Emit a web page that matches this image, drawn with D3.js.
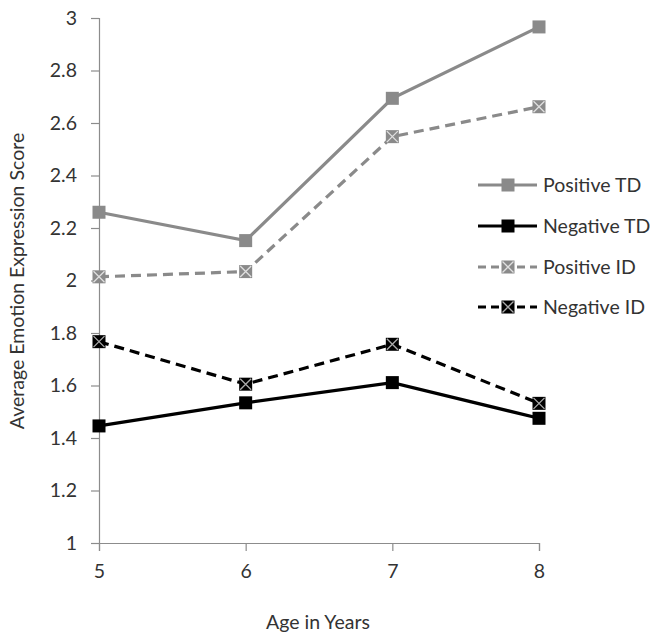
<!DOCTYPE html>
<html><head><meta charset="utf-8">
<script src="https://cdn.jsdelivr.net/npm/d3@7"></script>
<style>body{margin:0;background:#fff}svg{display:block}text{font-family:Lato,"Open Sans",sans-serif;fill:#333}</style>
</head><body>
<script>
const ages = [5, 6, 7, 8];
const positiveTD = [2.26, 2.152, 2.694, 2.966];
const negativeTD = [1.446, 1.534, 1.611, 1.475];
const positiveID = [2.014, 2.034, 2.548, 2.662];
const negativeID = [1.767, 1.605, 1.757, 1.532];
const yTicks = [1, 1.2, 1.4, 1.6, 1.8, 2, 2.2, 2.4, 2.6, 2.8, 3];
const seriesNames = ["Positive TD", "Negative TD", "Positive ID", "Negative ID"];

const series = [
  {name: seriesNames[0], values: positiveTD, color: "#8a8a8a", dash: null, cross: false},
  {name: seriesNames[1], values: negativeTD, color: "#000000", dash: null, cross: false},
  {name: seriesNames[2], values: positiveID, color: "#8a8a8a", dash: "10,6", cross: true},
  {name: seriesNames[3], values: negativeID, color: "#000000", dash: "10,6", cross: true}
];

const W = 661, H = 641;
const FS = "19.5px";
const svg = d3.select("body").append("svg").attr("width", W).attr("height", H);
const x = d3.scaleLinear().domain([5, 8]).range([99, 539]);
const y = d3.scaleLinear().domain([1, 3]).range([543, 18]);

const yAxis = svg.append("g").attr("transform", "translate(99,0)")
  .call(d3.axisLeft(y).tickValues(yTicks).tickSize(8).tickPadding(14).tickFormat(d3.format("")));
const xAxis = svg.append("g").attr("transform", "translate(0,543)")
  .call(d3.axisBottom(x).tickValues(ages).tickSize(8).tickPadding(13).tickFormat(d3.format("d")));
[yAxis, xAxis].forEach(g => {
  g.select(".domain").attr("stroke", "#8c8c8c").attr("stroke-width", 1.2);
  g.selectAll(".tick line").attr("stroke", "#8c8c8c").attr("stroke-width", 1.2);
  g.selectAll(".tick text").style("font-size", FS).style("font-family", "Lato, sans-serif").attr("fill", "#333");
});

svg.append("text").attr("x", 318).attr("y", 629).attr("text-anchor", "middle")
  .style("font-size", FS).text("Age in Years");
svg.append("text").attr("transform", "translate(24,281) rotate(-90)").attr("text-anchor", "middle")
  .style("font-size", FS).text("Average Emotion Expression Score");

const line = d3.line().x((d, i) => x(ages[i])).y(d => y(d));

function marker(g, cx, cy, s) {
  const h = 6.5;
  g.append("rect").attr("x", cx - h).attr("y", cy - h).attr("width", 2 * h).attr("height", 2 * h)
    .attr("fill", s.color);
  if (s.cross) {
    const c = s.color === "#000000" ? "#aaaaaa" : "#e0e0e0";
    g.append("path").attr("d", `M${cx - h + 1},${cy - h + 1}L${cx + h - 1},${cy + h - 1}M${cx + h - 1},${cy - h + 1}L${cx - h + 1},${cy + h - 1}`)
      .attr("stroke", c).attr("stroke-width", 1.3).attr("fill", "none");
  }
}

const order = [2, 0, 3, 1];
order.forEach(k => {
  const s = series[k];
  const g = svg.append("g");
  g.append("path").datum(s.values).attr("d", line).attr("fill", "none")
    .attr("stroke", s.color).attr("stroke-width", 3.2)
    .attr("stroke-dasharray", s.dash);
  s.values.forEach((v, i) => marker(g, x(ages[i]), y(v), s));
});

const legY = [185, 226, 267, 307];
series.forEach((s, i) => {
  const g = svg.append("g");
  const yy = legY[i];
  g.append("line").attr("x1", 478).attr("x2", 537).attr("y1", yy).attr("y2", yy)
    .attr("stroke", s.color).attr("stroke-width", 3.2).attr("stroke-dasharray", s.dash ? "8,5" : null);
  const h = 6.5;
  g.append("rect").attr("x", 508 - h).attr("y", yy - h).attr("width", 2*h).attr("height", 2*h).attr("fill", s.color);
  if (s.cross) {
    const c = s.color === "#000000" ? "#aaaaaa" : "#e0e0e0";
    g.append("path").attr("d", `M${508-h+1},${yy-h+1}L${508+h-1},${yy+h-1}M${508+h-1},${yy-h+1}L${508-h+1},${yy+h-1}`)
      .attr("stroke", c).attr("stroke-width", 1.3);
  }
  g.append("text").attr("x", 543).attr("y", yy).attr("dy", "0.35em").style("font-size", FS).text(s.name);
});
</script>
</body></html>
